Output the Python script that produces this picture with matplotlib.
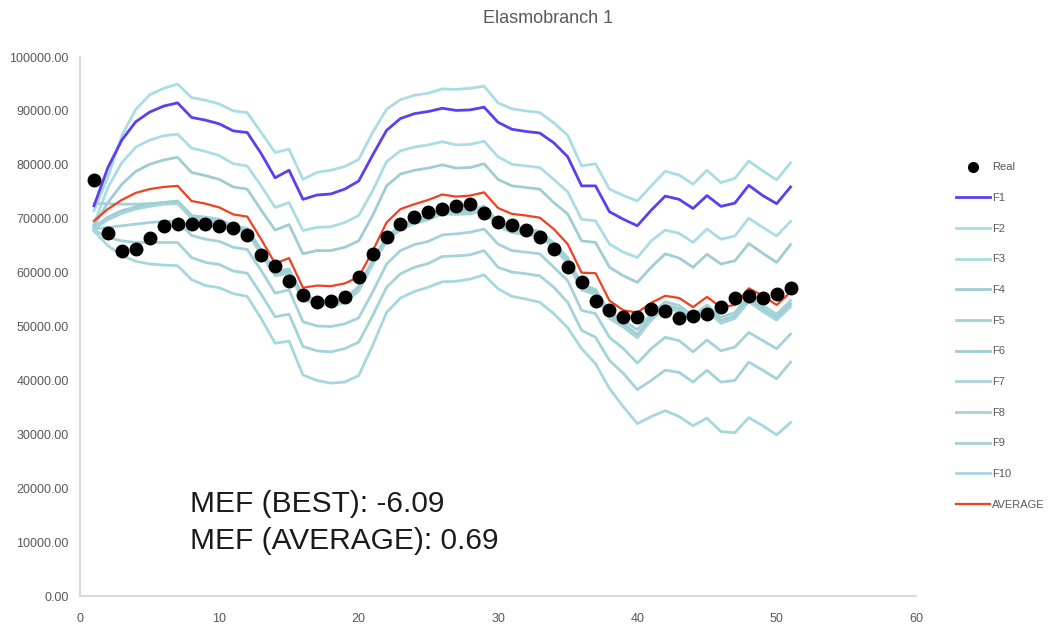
import numpy as np
import matplotlib.pyplot as plt
from matplotlib.ticker import FormatStrFormatter

plt.rcParams['font.family'] = ['Liberation Sans', 'DejaVu Sans']

# time steps
t = np.arange(1, 52)

real = [77200, 67350, 64100, 64400, 66400, 68600, 69000, 69000, 69100, 68700,
        68300, 66900, 63200, 61300, 58500, 55800, 54500, 54800, 55500, 59200,
        63400, 66600, 69100, 70400, 71200, 71900, 72400, 72800, 71100, 69400,
        68800, 67900, 66700, 64300, 61000, 58200, 54800, 53000, 51800, 51800,
        53300, 52900, 51500, 51900, 52400, 53700, 55300, 55700, 55300, 56100,
        57100]

f1 = [72400, 79500, 84600, 88000, 89800, 90900, 91500, 88800, 88300, 87600,
      86300, 86000, 82100, 77600, 79000, 73600, 74400, 74600, 75500, 77000,
      81800, 86400, 88600, 89500, 89900, 90500, 90100, 90200, 90700, 87900,
      86600, 86200, 85900, 84100, 81500, 76100, 76100, 71300, 69900, 68700,
      71600, 74200, 73600, 71900, 74300, 72300, 72900, 76200, 74300, 72800,
      75900]

f2 = [71500, 77700, 85400, 90300, 93000, 94200, 95000, 92500, 92000, 91300,
      90000, 89700, 86000, 82300, 82900, 77300, 78600, 79000, 79700, 81000,
      86000, 90300, 92100, 92900, 93300, 94100, 94000, 94200, 94600, 91500,
      90400, 90000, 89700, 87800, 85500, 79800, 80200, 75500, 74300, 73300,
      76100, 78800, 78100, 76400, 79000, 76700, 77500, 80700, 78900, 77200,
      80400]

f3 = [69000, 75800, 80400, 83300, 84600, 85400, 85700, 83100, 82500, 81700,
      80200, 79800, 76100, 72100, 73000, 67800, 68400, 68500, 69300, 70600,
      75200, 80600, 82600, 83300, 83700, 84300, 83700, 83800, 84400, 81500,
      80100, 79800, 79500, 77300, 75000, 69900, 69600, 65300, 63800, 62800,
      65900, 67900, 67300, 65600, 68100, 66200, 66800, 70100, 68400, 66800,
      69500]

f4 = [68700, 73000, 76400, 78800, 80100, 80900, 81400, 78600, 78000, 77300,
      75900, 75500, 71600, 67900, 68900, 63500, 64100, 64100, 64700, 65900,
      70600, 76100, 78300, 79000, 79400, 80000, 79400, 79500, 80200, 77300,
      76100, 75800, 75500, 73000, 70900, 65900, 65600, 61000, 59400, 58200,
      61000, 63500, 62700, 61000, 63400, 61600, 62200, 65400, 63600, 61900,
      65200]

f5 = [72800, 72800, 72700, 72700, 72800, 73000, 73300, 70600, 70300, 69900,
      68700, 68200, 64200, 60200, 60700, 55700, 55100, 54600, 55200, 57400,
      62300, 66600, 68800, 69900, 70600, 71700, 71600, 71700, 72300, 69500,
      68300, 68000, 67700, 65500, 62800, 57800, 56900, 52600, 51100, 49400,
      52300, 54600, 53900, 52000, 54000, 51700, 52600, 55700, 53900, 52300,
      54800]

f6 = [68400, 70300, 71500, 72200, 72700, 73000, 73200, 70500, 69900, 69500,
      68300, 67800, 63800, 59800, 60300, 55300, 54700, 54200, 54800, 57000,
      61900, 66200, 68400, 69500, 70200, 71300, 71200, 71300, 71900, 69000,
      67800, 67500, 67200, 65000, 62300, 57300, 56400, 52000, 50500, 48500,
      51700, 54000, 53300, 51400, 53400, 51100, 52000, 55100, 53300, 51700,
      54200]

f7 = [68100, 69800, 71000, 71800, 72300, 72700, 72800, 70100, 69500, 69100,
      67900, 67400, 63400, 59400, 59900, 54900, 54300, 53800, 54400, 56600,
      61500, 65800, 68000, 69100, 69800, 70900, 70800, 70900, 71500, 68600,
      67400, 67100, 66800, 64600, 61800, 56800, 55900, 51500, 49900, 47900,
      51200, 53500, 52800, 50900, 52900, 50600, 51500, 54600, 52800, 51200,
      53700]

f8 = [68100, 68400, 68700, 69000, 69300, 69500, 69600, 66900, 66200, 65800,
      64700, 64300, 60400, 56200, 56800, 50900, 50100, 50000, 50500, 51600,
      56400, 61600, 64100, 65200, 65800, 67000, 67200, 67500, 68100, 65300,
      64100, 63800, 63500, 61000, 58500, 53000, 52400, 48000, 45900, 43200,
      45900, 48000, 47400, 45300, 47500, 45500, 46200, 48900, 47400, 45900,
      48600]

f9 = [67900, 66500, 65900, 65600, 65600, 65600, 65600, 62800, 61900, 61500,
      60300, 59900, 56000, 51800, 52300, 46300, 45500, 45300, 45900, 47100,
      52000, 57300, 59800, 61000, 61700, 63000, 63100, 63300, 64100, 61000,
      60100, 59800, 59400, 57300, 54500, 49300, 48000, 43700, 41300, 38300,
      40000, 41900, 41500, 39700, 41900, 39700, 40000, 43400, 41900, 40300,
      43400]

f10 = [67700, 65000, 63200, 62100, 61600, 61400, 61300, 58700, 57600, 57200,
       56100, 55600, 51500, 46900, 47300, 41000, 40000, 39500, 39700, 40900,
       46500, 52600, 55300, 56500, 57300, 58300, 58400, 58800, 59600, 57000,
       55600, 55100, 54500, 52400, 49800, 45900, 43100, 38500, 35100, 32000,
       33300, 34400, 33300, 31600, 33000, 30500, 30300, 33100, 31600, 29900,
       32200]

average = [69600, 71800, 73500, 74800, 75500, 75900, 76100, 73300, 72800, 72100,
           70800, 70400, 66200, 61700, 62700, 57200, 57600, 57500, 58000, 59200,
           64000, 69300, 71800, 72700, 73500, 74500, 74100, 74300, 74900, 72000,
           70900, 70600, 70200, 68100, 65300, 60000, 59900, 54800, 53000, 52600,
           54400, 55700, 55300, 53600, 55500, 53600, 54000, 57100, 55700, 54000,
           56400]

fit_names = ['F2', 'F3', 'F4', 'F5', 'F6', 'F7', 'F8', 'F9', 'F10']
fit_series = [f2, f3, f4, f5, f6, f7, f8, f9, f10]
fit_colors = ['#a9dde3', '#a9dde3', '#9fcdd2', '#a2d2d7', '#9fcdd2',
              '#a7d4d8', '#a3d3d9', '#a3d3d9', '#a6d7de']

fig = plt.figure(figsize=(10.56, 6.27), dpi=100)
ax = fig.add_axes([0.0758, 0.0494, 0.7916, 0.8596])

handles = []
for name, vals, col in zip(fit_names, fit_series, fit_colors):
    ln, = ax.plot(t, vals, color=col, lw=2.0, label=name, zorder=2)
    handles.append(ln)

blue, = ax.plot(t, f1, color='#5b3ef2', lw=2.0, label='F1', zorder=3)
red, = ax.plot(t, average, color='#f0401f', lw=1.6, label='AVERAGE', zorder=4)
dots, = ax.plot(t, real, 'o', color='black', ms=9, ls='none', label='Real', zorder=5)

ax.set_xlim(0, 60)
ax.set_ylim(0, 100000)
ax.set_xticks(range(0, 61, 10))
ax.set_yticks(range(0, 100001, 10000))
ax.yaxis.set_major_formatter(FormatStrFormatter('%.2f'))
ax.tick_params(length=0, labelsize=9, labelcolor='#595959')
ax.tick_params(axis='y', pad=8)
ax.tick_params(axis='x', pad=12)
for side in ['top', 'right']:
    ax.spines[side].set_visible(False)
for side in ['left', 'bottom']:
    ax.spines[side].set_color('#d9d9d9')
    ax.spines[side].set_linewidth(1.5)

fig.text(0.519, 0.971, 'Elasmobranch 1', ha='center', va='center',
         fontsize=13, color='#595959')

leg = fig.legend([dots, blue] + handles + [red],
                 ['Real', 'F1'] + fit_names + ['AVERAGE'],
                 loc='upper left', bbox_to_anchor=(0.905, 0.741),
                 frameon=False, fontsize=8, labelcolor='#595959',
                 handlelength=3.1, handletextpad=0.2, labelspacing=1.86,
                 borderpad=0, borderaxespad=0)
leg.legend_handles[0].set_markersize(7)

fig.text(0.18, 0.196, 'MEF (BEST): -6.09', ha='left', va='center',
         fontsize=21.5, color='#1a1a1a')
fig.text(0.18, 0.137, 'MEF (AVERAGE): 0.69', ha='left', va='center',
         fontsize=21.5, color='#1a1a1a')

fig.savefig('out.png', dpi=100)
